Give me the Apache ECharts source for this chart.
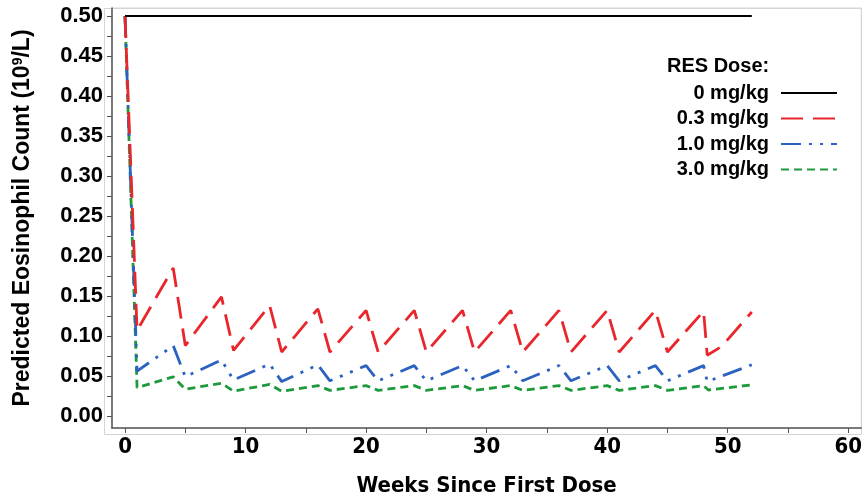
<!DOCTYPE html>
<html>
<head>
<meta charset="utf-8">
<script src="https://cdn.jsdelivr.net/npm/echarts@6/dist/echarts.min.js"></script>
<style>
  html, body { margin: 0; padding: 0; background: #ffffff; }
  #chart { width: 865px; height: 502px; }
</style>
</head>
<body>
<div id="chart"></div>
<script>
// Dose groups
const doseNames = ['0 mg/kg', '0.3 mg/kg', '1.0 mg/kg', '3.0 mg/kg'];

// Predicted eosinophil count (10^9/L) by week since first dose
const weeks0 = [0, 52];
const count0 = [0.50, 0.50];

const weeks03 = [0, 1, 4, 5, 8, 9, 12, 13, 16, 17, 20, 21, 24, 25, 28, 29, 32, 33, 36, 37, 40, 41, 44, 45, 48, 48.3, 49.5, 52];
const count03 = [0.50, 0.107, 0.185, 0.088, 0.149, 0.082, 0.138, 0.080, 0.134, 0.080, 0.132, 0.080, 0.132, 0.080,
                 0.132, 0.080, 0.132, 0.080, 0.132, 0.080, 0.132, 0.080, 0.132, 0.080, 0.131, 0.076, 0.087, 0.130];

const weeks10 = [0, 1, 4, 5, 8, 9, 12, 13, 16, 17, 20, 21, 24, 25, 28, 29, 32, 33, 36, 37, 40, 41, 44, 45, 48, 48.3, 52];
const count10 = [0.50, 0.056, 0.088, 0.049, 0.070, 0.045, 0.065, 0.043, 0.064, 0.044, 0.063, 0.044, 0.063, 0.044,
                 0.063, 0.044, 0.063, 0.044, 0.063, 0.044, 0.063, 0.044, 0.063, 0.044, 0.063, 0.043, 0.064];

const weeks30 = [0, 1, 4, 5, 8, 9, 12, 13, 16, 17, 20, 21, 24, 25, 28, 29, 32, 33, 36, 37, 40, 41, 44, 45, 48, 48.4, 52];
const count30 = [0.50, 0.0355, 0.049, 0.0335, 0.041, 0.031, 0.0395, 0.031, 0.038, 0.032, 0.038, 0.032, 0.038, 0.032,
                 0.038, 0.032, 0.038, 0.032, 0.038, 0.032, 0.038, 0.032, 0.038, 0.032, 0.038, 0.0325, 0.039];

// Axis ticks and labels
const xTickValues = [0, 5, 10, 15, 20, 25, 30, 35, 40, 45, 50, 55, 60];
const xLabelValues = [0, 10, 20, 30, 40, 50, 60];
const yTickValues = [0, 0.025, 0.05, 0.075, 0.1, 0.125, 0.15, 0.175, 0.2, 0.225, 0.25, 0.275, 0.3,
                     0.325, 0.35, 0.375, 0.4, 0.425, 0.45, 0.475, 0.5];
const yLabelValues = [0, 0.05, 0.1, 0.15, 0.2, 0.25, 0.3, 0.35, 0.4, 0.45, 0.5];

const pairs = (xs, ys) => xs.map((x, i) => [x, ys[i]]);

const FONT = '"Liberation Sans", Arial, sans-serif';
const NARROW = '"DejaVu Sans Condensed", "Liberation Sans", Arial, sans-serif';
const AXIS_COLOR = '#555555';

const styles = [
  { color: '#000000', type: 'solid' },
  { color: '#e8262b', type: [22, 10] },
  { color: '#2b62c0', type: [20, 8, 3, 8, 3, 8] },
  { color: '#1e9a3c', type: [8, 5] }
];
const dataSets = [pairs(weeks0, count0), pairs(weeks03, count03), pairs(weeks10, count10), pairs(weeks30, count30)];

const chart = echarts.init(document.getElementById('chart'), null, { renderer: 'canvas' });

chart.setOption({
  backgroundColor: '#ffffff',
  animation: false,
  grid: { left: 112, top: 8, right: 3, bottom: 74, show: true, borderColor: '#d4d4d4', borderWidth: 1 },
  graphic: [{
    type: 'rect',
    shape: { x: 104.5, y: 8.5, width: 757, height: 426 },
    style: { fill: 'none', stroke: '#d4d4d4', lineWidth: 1 },
    silent: true, z: 0
  }],
  title: {
    text: 'RES Dose:',
    left: 667, top: 56,
    padding: 0,
    textStyle: { fontFamily: FONT, fontWeight: 'bold', fontSize: 20, color: '#000' }
  },
  legend: {
    orient: 'vertical',
    right: 27, top: 83,
    padding: 0,
    align: 'right',
    itemWidth: 56, itemHeight: 14, itemGap: 5.5,
    itemStyle: { opacity: 0 },
    data: doseNames,
    textStyle: { fontFamily: FONT, fontWeight: 'bold', fontSize: 20, color: '#000', padding: [0, 7, 0, 0] }
  },
  xAxis: {
    type: 'value',
    min: -1.08, max: 61.08,
    name: 'Weeks Since First Dose',
    nameLocation: 'middle',
    nameGap: 47,
    nameTextStyle: { fontFamily: NARROW, fontWeight: 'bold', fontSize: 22, color: '#000' },
    axisLine: { show: true, onZero: false, lineStyle: { color: AXIS_COLOR, width: 1.5 } },
    axisTick: { show: true, length: 5, customValues: xTickValues, lineStyle: { color: AXIS_COLOR, width: 1 } },
    axisLabel: { customValues: xLabelValues, margin: 8, fontFamily: NARROW, fontWeight: 'bold', fontSize: 22, color: '#000' },
    splitLine: { show: false }
  },
  yAxis: {
    type: 'value',
    min: -0.015, max: 0.51,
    name: 'Predicted Eosinophil Count (10{sup|9}/L)',
    nameLocation: 'middle',
    nameGap: 78,
    nameTextStyle: {
      fontFamily: FONT, fontWeight: 'bold', fontSize: 23, color: '#000',
      rich: { sup: { fontFamily: FONT, fontWeight: 'bold', fontSize: 14, color: '#000', verticalAlign: 'top', padding: [0, 0, 9, 0] } }
    },
    axisLine: { show: true, onZero: false, lineStyle: { color: AXIS_COLOR, width: 1.5 } },
    axisTick: { show: true, length: 5, customValues: yTickValues, lineStyle: { color: AXIS_COLOR, width: 1 } },
    axisLabel: {
      customValues: yLabelValues, margin: 9,
      formatter: v => v.toFixed(2),
      fontFamily: FONT, fontWeight: 'bold', fontSize: 22, color: '#000'
    },
    splitLine: { show: false }
  },
  series: doseNames.map((name, i) => ({
    name: name,
    type: 'line',
    data: dataSets[i],
    showSymbol: false,
    symbol: 'none',
    z: 4 - i,
    lineStyle: { color: styles[i].color, width: i === 0 ? 2 : 2.8, type: styles[i].type },
    itemStyle: { color: styles[i].color }
  }))
});
</script>
</body>
</html>
